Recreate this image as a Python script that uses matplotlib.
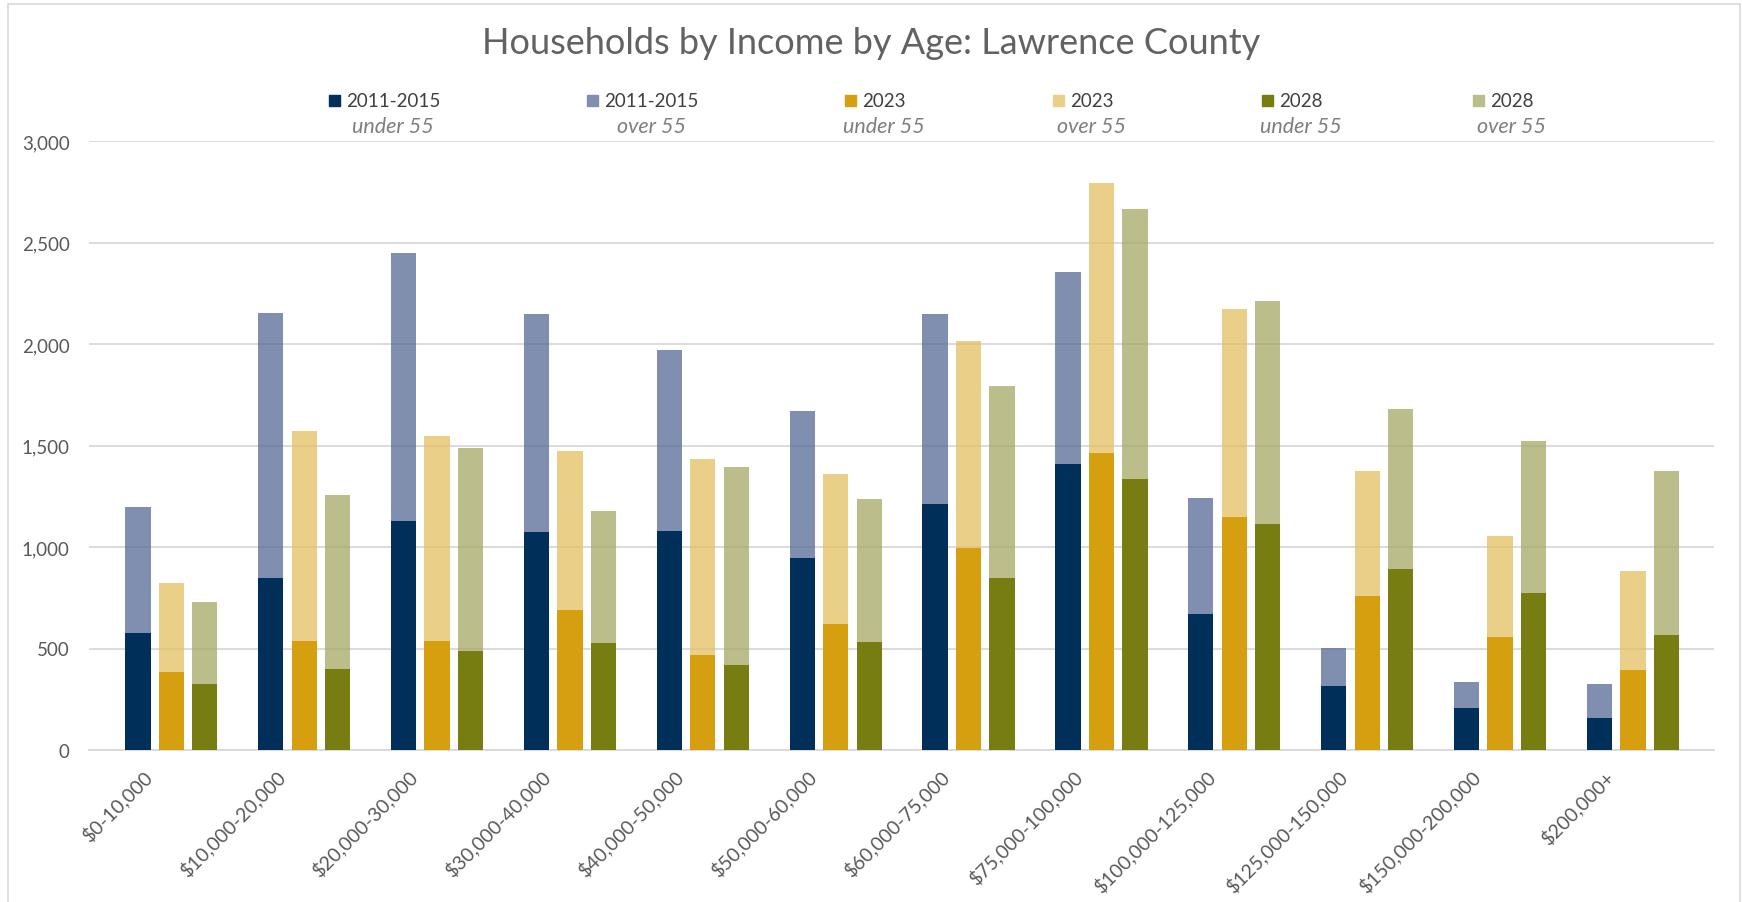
import numpy as np
import matplotlib
matplotlib.use("Agg")
import matplotlib.pyplot as plt
import matplotlib.transforms as mtransforms
from matplotlib.patches import Rectangle

# rendas e valores
faixas = ["$0-10,000", "$10,000-20,000", "$20,000-30,000", "$30,000-40,000",
          "$40,000-50,000", "$50,000-60,000", "$60,000-75,000", "$75,000-100,000",
          "$100,000-125,000", "$125,000-150,000", "$150,000-200,000", "$200,000+"]

ano2015_menos55 = [576, 846, 1126, 1075, 1080, 947, 1210, 1407, 672, 313, 209, 157]
ano2015_mais55 = [623, 1306, 1324, 1072, 888, 725, 937, 950, 568, 189, 127, 168]
ano2023_menos55 = [383, 537, 537, 691, 469, 621, 994, 1465, 1148, 758, 558, 392]
ano2023_mais55 = [440, 1032, 1009, 781, 963, 741, 1021, 1330, 1022, 616, 494, 492]
ano2028_menos55 = [323, 397, 490, 525, 417, 530, 845, 1337, 1113, 891, 775, 565]
ano2028_mais55 = [407, 860, 1000, 652, 975, 705, 948, 1330, 1097, 788, 748, 809]

anos = ["2011-2015", "2023", "2028"]
cor_escura = ["#00305A", "#D59F0F", "#787D11"]
cor_clara = ["#566A96", "#E2BF60", "#A4A863"]   # com alpha 0.75 fica igual ao original
cor_legenda_clara = ["#808FB0", "#E9CF88", "#BBBE8A"]

cinza = "#595959"
fonte = "Lato"
W, H = 1742.0, 903.0

fig = plt.figure(figsize=(17.42, 9.03), dpi=100)
ax = fig.add_axes([89 / W, 1 - 751 / H, 1625 / W, 609 / H])

x = np.arange(len(faixas))
largura = 0.19
desloc = [-0.252, 0.0, 0.252]
menos = [ano2015_menos55, ano2023_menos55, ano2028_menos55]
mais = [ano2015_mais55, ano2023_mais55, ano2028_mais55]

for i in range(3):
    ax.bar(x + desloc[i], menos[i], largura, color=cor_escura[i], zorder=3)
    ax.bar(x + desloc[i], mais[i], largura, bottom=menos[i], color=cor_clara[i],
           alpha=0.75, zorder=3)

ax.set_xlim(-0.62, len(faixas) - 0.39)
ax.set_ylim(0, 3000)
ax.set_yticks(range(0, 3001, 500))
ax.set_yticklabels([f"{v:,}" for v in range(0, 3001, 500)])
ax.yaxis.grid(True, color="#D9D9D9", linewidth=1.3, zorder=0)
ax.set_axisbelow(True)
for s in ["top", "right", "left"]:
    ax.spines[s].set_visible(False)
ax.spines["bottom"].set_color("#D9D9D9")
ax.spines["bottom"].set_linewidth(1.3)
ax.tick_params(axis="both", length=0, colors=cinza, labelsize=13.5)
ax.tick_params(axis="y", pad=14)
for t in ax.get_yticklabels():
    t.set_fontfamily(fonte)

ax.set_xticks(x)
ax.set_xticklabels(faixas, rotation=45, ha="right", rotation_mode="anchor",
                   fontfamily=fonte, fontsize=14, color=cinza)
ax.tick_params(axis="x", pad=12)
desl = mtransforms.ScaledTranslation(-29 / 100, 0, fig.dpi_scale_trans)
for t in ax.get_xticklabels():
    t.set_transform(t.get_transform() + desl)

fig.text(0.5, 1 - 44 / H, "Households by Income by Age: Lawrence County", ha="center",
         va="center", fontsize=26, color="#626262", fontfamily=fonte, fontweight="normal")

# legenda manual
leg_x = [334, 592, 850, 1058, 1267, 1478]
leg_cores = [cor_escura[0], cor_legenda_clara[0], cor_escura[1], cor_legenda_clara[1],
             cor_escura[2], cor_legenda_clara[2]]
leg_ano = ["2011-2015", "2011-2015", "2023", "2023", "2028", "2028"]
leg_idade = ["under 55", "over 55", "under 55", "over 55", "under 55", "over 55"]
r = fig.canvas.get_renderer()
for k in range(6):
    fig.patches.append(Rectangle(((leg_x[k] - 5.5) / W, 1 - 107 / H), 11 / W, 11 / H,
                                 transform=fig.transFigure, color=leg_cores[k]))
    t = fig.text((leg_x[k] + 12) / W, 1 - 101.5 / H, leg_ano[k], ha="left", va="center",
                 fontsize=13.5, color="#404040", fontfamily=fonte)
    bb = t.get_window_extent(renderer=r)
    cx = (bb.x0 + bb.x1) / 2 / W
    fig.text(cx, 1 - 127 / H, leg_idade[k], ha="center", va="center", fontsize=15.5,
             color="#7F7F7F", fontfamily=fonte, fontstyle="italic")

# borda do grafico
fig.patches.append(Rectangle((8 / W, -0.01), 1732 / W, 1 - 5 / H + 0.01,
                             transform=fig.transFigure, fill=False,
                             edgecolor="#D9D9D9", linewidth=1.2))

fig.savefig("out.png", dpi=100)
